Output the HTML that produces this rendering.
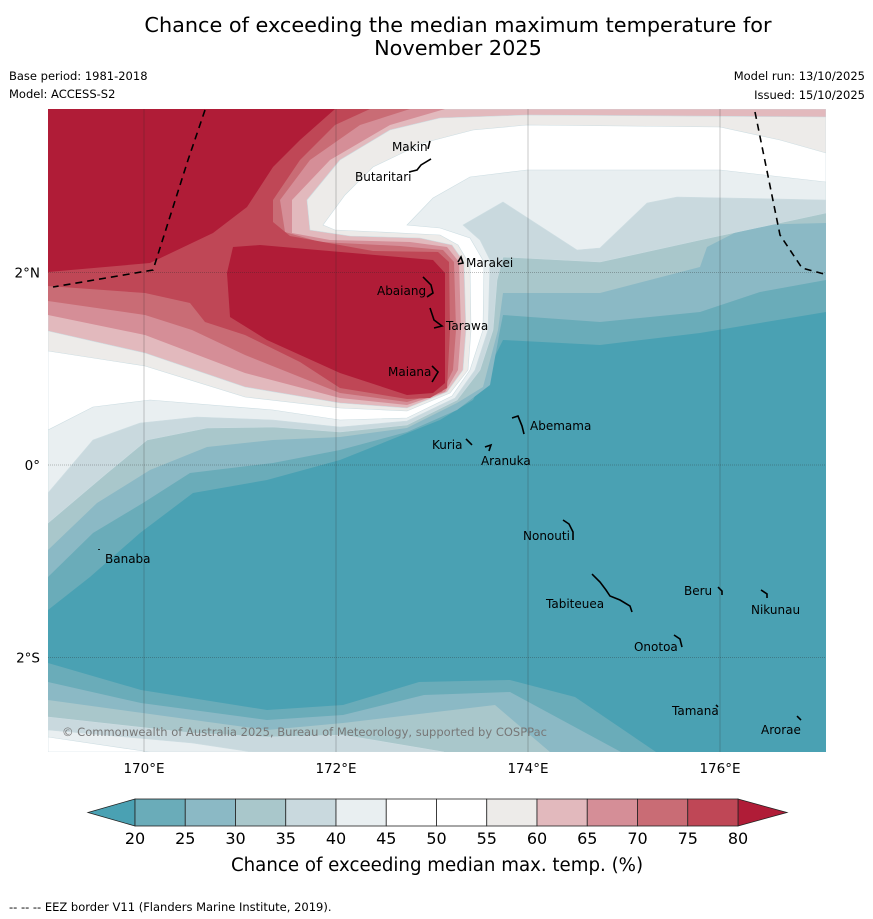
<!DOCTYPE html>
<html><head><meta charset="utf-8">
<style>
html,body{margin:0;padding:0;background:#fff;}
body{width:873px;height:919px;position:relative;overflow:hidden;font-family:"Liberation Sans","DejaVu Sans",sans-serif;}
svg{position:absolute;left:0;top:0;}
</style></head>
<body>
<svg id="chart" width="873" height="919" viewBox="0 0 873 919" xmlns="http://www.w3.org/2000/svg">
  <text x="458" y="32" text-anchor="middle" font-size="20.8" font-family="DejaVu Sans, Liberation Sans, sans-serif">Chance of exceeding the median maximum temperature for</text>
  <text x="458" y="55" text-anchor="middle" font-size="20.8" font-family="DejaVu Sans, Liberation Sans, sans-serif">November 2025</text>
  <text x="9" y="80" font-size="11.5" font-family="DejaVu Sans, Liberation Sans, sans-serif">Base period: 1981-2018</text>
  <text x="9" y="98" font-size="11.5" font-family="DejaVu Sans, Liberation Sans, sans-serif">Model: ACCESS-S2</text>
  <text x="865" y="80" text-anchor="end" font-size="11.5" font-family="DejaVu Sans, Liberation Sans, sans-serif">Model run: 13/10/2025</text>
  <text x="865" y="99" text-anchor="end" font-size="11.5" font-family="DejaVu Sans, Liberation Sans, sans-serif">Issued: 15/10/2025</text>
  <defs><clipPath id="mapclip"><rect x="48" y="109" width="778" height="643"/></clipPath></defs>
  <g id="map" clip-path="url(#mapclip)"></g>
  <g id="axes"></g>
  <g id="cbar"></g>
  <text x="437" y="871" text-anchor="middle" font-size="18.2" font-family="DejaVu Sans, Liberation Sans, sans-serif">Chance of exceeding median max. temp. (%)</text>
  <text x="9" y="911" font-size="11.5" font-family="DejaVu Sans, Liberation Sans, sans-serif">--  --  -- EEZ border V11 (Flanders Marine Institute, 2019).</text>
</svg>
<script>
// ---- data arrays ----
const levels = [20,25,30,35,40,45,50,55,60,65,70,75,80];
const bandColors = ['#6aacb9','#8bb9c5','#a9c7cb','#c9d9de','#e9eff1','#ffffff','#ffffff','#edebe9','#e2b9bd','#d58e97','#c96c75','#bf4756'];
const underColor = '#4aa1b3';
const overColor = '#b01c37';
const lonTicks = [170,172,174,176];
const latTicks = [2,0,-2];
const islandNames = ['Makin','Butaritari','Marakei','Abaiang','Tarawa','Maiana','Abemama','Kuria','Aranuka','Banaba','Nonouti','Tabiteuea','Beru','Nikunau','Onotoa','Tamana','Arorae'];
const islandLons = [172.583,172.198,173.354,172.427,173.146,172.542,174.021,173.0,173.51,169.594,173.948,174.1875,175.625,176.323,175.104,175.5,176.427];
const islandLats = [3.306,2.994,2.100,1.809,1.445,0.967,0.405,0.208,0.042,-0.977,-0.738,-1.445,-1.31,-1.507,-1.892,-2.557,-2.755];

// ---- projection ----
const X0=48,X1=826,Y0=109,Y1=752;
function xOf(lon){return 144+(lon-170)*96;}
function yOf(lat){return 465-lat*96.2;}

const NS='http://www.w3.org/2000/svg';
function mk(tag,attrs,parent){const e=document.createElementNS(NS,tag);for(const k in attrs)e.setAttribute(k,attrs[k]);parent.appendChild(e);return e;}
const map=document.getElementById('map');

const topContours = {
 20:[[48,610],[90,577],[140,533],[193,493],[267,480],[340,460],[390,440],[440,420],[473,400],[503,340],[600,345],[700,333],[826,312]],
 25:[[48,577],[93,533],[143,503],[190,473],[273,463],[340,450],[407,432],[457,410],[490,385],[500,330],[503,315],[600,322],[700,312],[760,292],[826,280]],
 30:[[48,550],[97,503],[150,470],[207,447],[273,440],[340,437],[407,428],[457,403],[483,387],[498,330],[503,293],[600,293],[700,267],[707,247],[750,225],[826,223]],
 35:[[48,523],[107,473],[147,440],[207,428],[273,427],[340,432],[407,425],[457,400],[480,370],[493,330],[497,280],[503,257],[600,262],[700,240],[826,213]],
 40:[[48,493],[93,440],[140,423],[197,417],[273,420],[340,427],[407,421],[455,398],[475,370],[488,330],[490,260],[480,240],[463,225],[503,202],[577,250],[600,248],[647,203],[677,197],[826,200]],
 45:[[48,430],[93,407],[150,400],[273,410],[340,420],[407,418],[452,396],[470,370],[483,330],[484,262],[470,238],[440,228],[407,225],[433,198],[470,177],[527,170],[720,170],[826,182]],
 55:[[48,351],[145,366],[245,397],[340,408],[407,411],[450,393],[468,370],[471,330],[470,265],[458,245],[440,235],[380,232],[335,230],[323,225],[345,195],[373,167],[423,143],[473,130],[527,125],[720,127],[780,140],[826,153]],
 60:[[48,331],[145,353],[245,387],[340,403],[407,408],[447,392],[463,370],[466,330],[464,262],[452,245],[420,238],[350,236],[310,230],[307,200],[340,160],[390,130],[440,118],[527,115],[826,117]],
 65:[[48,315],[145,335],[245,373],[340,398],[407,405],[445,392],[458,370],[461,330],[459,262],[447,247],[410,242],[330,240],[292,233],[292,200],[330,160],[390,125],[445,109]],
 70:[[48,301],[145,315],[192,330],[245,355],[340,393],[407,402],[442,392],[453,370],[456,330],[454,262],[443,250],[400,246],[320,242],[285,232],[280,200],[310,160],[360,125],[410,109]],
 75:[[48,286],[145,293],[190,303],[205,322],[245,335],[300,362],[340,388],[407,399],[430,398],[447,388],[450,330],[449,262],[438,252],[373,251],[290,236],[273,222],[273,200],[300,160],[335,125],[370,109]]
};
const blobTopLeft=[[48,272],[150,263],[213,233],[247,207],[273,167],[300,140],[335,109],[48,109]];
const blobInner=[[233,247],[260,245],[433,260],[445,273],[445,383],[433,393],[407,395],[340,373],[267,340],[230,317],[227,273]];
const bottomContours = {
 20:[[48,663],[141,690],[267,710],[343,705],[419,682],[510,680],[575,697],[656,752]],
 25:[[48,682],[141,703],[267,720],[343,715],[424,695],[510,692],[621,752]],
 30:[[48,700],[267,730],[343,723],[495,705],[550,752]],
 35:[[48,717],[192,733],[267,737],[343,735],[444,752]],
 40:[[48,730],[192,743],[252,752]],
 45:[[48,737],[150,752]]
};

function pts(a){return a.map(p=>p[0]+','+p[1]).join(' ');}
const base=mk('rect',{x:X0,y:Y0,width:X1-X0,height:Y1-Y0,fill:underColor},map);



levels.slice(0,12).forEach((lv,i)=>{
  const c=topContours[lv]; if(!c) return;
  let poly=c.slice();
  const last=c[c.length-1];
  if(last[0]>=X1){poly.push([X1,Y0]);}
  poly.push([X0,Y0]);
  const el=mk('polygon',{points:pts(poly),fill:bandColors[i],stroke:(lv>=35&&lv<=60)?'#cddde2':'none','stroke-width':0.6},map);
  
  
});
[blobTopLeft,blobInner].forEach((b,k)=>{
  const el=mk('polygon',{points:pts(b),fill:overColor},map);
  
  
});
levels.slice(0,6).forEach((lv,i)=>{
  const c=bottomContours[lv]; if(!c) return;
  const last=c[c.length-1];
  const poly=c.concat([[last[0],Y1],[X0,Y1]]);
  const el=mk('polygon',{points:pts(poly),fill:bandColors[i],stroke:lv>=35?'#cddde2':'none','stroke-width':0.6},map);
  
  
});

lonTicks.forEach(l=>{
  const g=mk('line',{x1:xOf(l),x2:xOf(l),y1:Y0,y2:Y1,stroke:'rgba(40,40,40,0.35)','stroke-width':0.7},map);
  
  
});
latTicks.forEach(l=>{
  const g=mk('line',{x1:X0,x2:X1,y1:yOf(l),y2:yOf(l),stroke:'rgba(40,40,40,0.4)','stroke-width':0.7,'stroke-dasharray':'1,1'},map);
  
  
});
const eez1=mk('polyline',{points:'205,110 188,160 153,270 53,287',fill:'none',stroke:'#000','stroke-width':1.6,'stroke-dasharray':'7,5'},map);


const eez2=mk('polyline',{points:'755,112 780,235 802,268 824,274',fill:'none',stroke:'#000','stroke-width':1.6,'stroke-dasharray':'7,5'},map);



const islandShapes={
 'Makin':[[38,-6],[36,2]],
 'Butaritari':[[54,-5],[62,-7],[66,-12],[76,-18]],
 'Marakei':[[-8,-1],[-5,-6],[-3,0],[-8,1]],
 'Abaiang':[[46,-14],[54,-6],[56,2],[50,6]],
 'Tarawa':[[-16,-18],[-12,-6],[-4,0],[-12,2]],
 'Maiana':[[44,-6],[50,0],[44,10]],
 'Abemama':[[-18,-8],[-12,-10],[-8,0],[-6,8]],
 'Kuria':[[34,-6],[38,-2],[40,0]],
 'Aranuka':[[4,-14],[10,-16],[8,-10]],
 'Banaba':[[-6,-9],[-6,-10]],
 'Nonouti':[[40,-16],[46,-12],[50,-4],[50,4]],
 'Tabiteuea':[[46,-30],[54,-22],[60,-14],[64,-8],[74,-4],[84,2],[86,8]],
 'Beru':[[34,-4],[38,0],[38,4]],
 'Nikunau':[[10,-20],[16,-16],[16,-12]],
 'Onotoa':[[40,-12],[46,-8],[48,0]],
 'Tamana':[[44,-6],[46,-4]],
 'Arorae':[[36,-14],[40,-10]]
};
islandNames.forEach((n,i)=>{
  const x=xOf(islandLons[i]), y=yOf(islandLats[i]);
  const sh=islandShapes[n];
  if(sh){
    const p=mk('polyline',{points:sh.map(q=>(x+q[0])+','+(y+q[1])).join(' '),fill:'none',stroke:'#000','stroke-width':1.6},map);
    
    
  }
  const t=mk('text',{x:x,y:y+4,'font-size':12,'font-family':'DejaVu Sans, Liberation Sans, sans-serif',fill:'#000'},map);
  t.textContent=n;
  
  
});
const cp=mk('text',{x:62,y:736,'font-size':11.5,'font-family':'DejaVu Sans, Liberation Sans, sans-serif',fill:'#777',textLength:485},map);
cp.textContent='© Commonwealth of Australia 2025, Bureau of Meteorology, supported by COSPPac';



const axes=document.getElementById('axes');
lonTicks.forEach(l=>{
  const t=mk('text',{x:xOf(l),y:773,'text-anchor':'middle','font-size':13.5,'font-family':'DejaVu Sans, Liberation Sans, sans-serif'},axes);
  t.textContent=l+'°E';
  
  
});
latTicks.forEach(l=>{
  const t=mk('text',{x:40,y:yOf(l)+5,'text-anchor':'end','font-size':13.5,'font-family':'DejaVu Sans, Liberation Sans, sans-serif'},axes);
  t.textContent=l===0?'0°':Math.abs(l)+'°'+(l>0?'N':'S');
  
  
});

const cb=document.getElementById('cbar');
const cbX0=135, cbX1=738, cbY0=799, cbY1=826;
function cbX(v){return cbX0+(v-20)/60*(cbX1-cbX0);}
const lt=mk('polygon',{points:`${cbX0},${cbY0} ${cbX0},${cbY1} 88,${(cbY0+cbY1)/2}`,fill:underColor,stroke:'#222','stroke-width':0.8},cb);


const rt=mk('polygon',{points:`${cbX1},${cbY0} ${cbX1},${cbY1} 787,${(cbY0+cbY1)/2}`,fill:overColor,stroke:'#222','stroke-width':0.8},cb);


bandColors.forEach((c,i)=>{
  const r=mk('rect',{x:cbX(levels[i]),y:cbY0,width:cbX(levels[i+1])-cbX(levels[i]),height:cbY1-cbY0,fill:c,stroke:'#222','stroke-width':0.8},cb);
  
  
});
levels.forEach(v=>{
  const t=mk('text',{x:cbX(v),y:844,'text-anchor':'middle','font-size':16,'font-family':'DejaVu Sans, Liberation Sans, sans-serif'},cb);
  t.textContent=v;
  
  
});
</script>
</body></html>
